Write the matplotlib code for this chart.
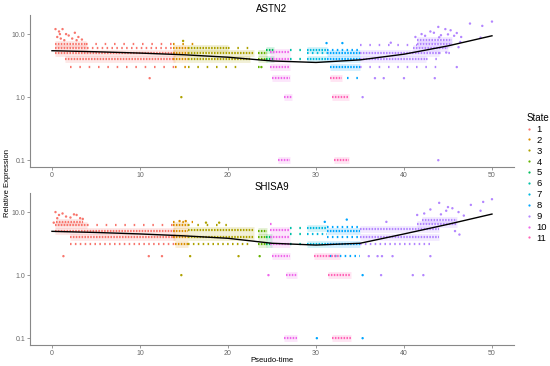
import numpy as np
import matplotlib
matplotlib.use('Agg')
import matplotlib.pyplot as plt
from matplotlib.lines import Line2D

plt.rcParams['font.family'] = ['Liberation Sans', 'DejaVu Sans']

# ggplot hue palette, 11 states
state_colors = ['#F8766D', '#DB8E00', '#AEA200', '#64B200', '#00BD5C', '#00C1A7',
                '#00BADE', '#00A6FF', '#B385FF', '#EF67EB', '#FF63B6']
state_labels = [str(i) for i in range(1, 12)]

# rows of cells: (state, t_start, t_end, expression, density)
# density: d = packed row, m = medium, s = scattered dots
astn2_rows = [
    (1, 0.3, 3.9, 7.0, 'd'), (1, 3.9, 14.0, 7.0, 's'),
    (1, 0.3, 4.0, 6.0, 'd'), (1, 4.0, 14.0, 6.0, 'm'),
    (1, 0.3, 14.0, 5.0, 'd'), (1, 1.5, 14.0, 4.0, 'd'), (1, 2.0, 14.0, 3.0, 's'),
    (2, 13.8, 16.5, 7.0, 's'), (2, 13.8, 15.5, 6.0, 'd'), (2, 13.8, 15.5, 5.0, 'd'),
    (2, 13.8, 15.5, 4.0, 'd'), (2, 14.0, 15.5, 3.0, 's'),
    (3, 15.5, 20.0, 6.0, 'd'), (3, 20.0, 22.5, 6.0, 's'), (3, 15.5, 23.0, 5.0, 'd'),
    (3, 15.5, 22.5, 4.0, 'd'), (3, 15.5, 21.5, 3.0, 's'),
    (4, 23.4, 24.4, 5.0, 'd'), (4, 23.4, 24.4, 4.0, 'd'), (4, 23.4, 24.4, 3.0, 's'),
    (5, 24.3, 25.2, 5.5, 'd'), (5, 24.3, 25.2, 4.0, 'd'),
    (10, 24.8, 27.0, 5.2, 'd'), (10, 24.8, 27.0, 4.0, 'd'), (10, 24.8, 27.0, 3.0, 'd'),
    (10, 25.0, 27.0, 2.0, 'd'), (10, 26.4, 27.3, 1.0, 'd'), (10, 25.7, 27.0, 0.1, 'd'),
    (6, 27.0, 29.0, 5.5, 's'), (6, 27.0, 29.0, 4.0, 's'),
    (7, 29.0, 31.2, 5.5, 'd'), (7, 29.0, 31.2, 5.0, 'm'), (7, 29.0, 31.2, 4.0, 'd'),
    (8, 31.2, 35.0, 5.5, 'm'), (8, 31.2, 35.0, 5.0, 'd'), (8, 31.2, 35.0, 4.0, 'd'),
    (8, 31.6, 35.0, 3.0, 'd'), (8, 33.5, 35.0, 2.0, 's'),
    (11, 31.6, 33.0, 2.0, 'd'), (11, 31.8, 33.7, 1.0, 'd'), (11, 32.0, 33.7, 0.1, 'd'),
    (9, 35.0, 41.5, 6.8, 's'), (9, 41.5, 45.5, 8.0, 'd'), (9, 41.5, 45.5, 7.0, 'd'),
    (9, 41.0, 45.0, 6.0, 'd'), (9, 35.0, 44.0, 5.0, 'd'), (9, 44.0, 46.0, 5.0, 's'),
    (9, 35.0, 42.5, 4.0, 'd'), (9, 42.5, 44.0, 4.0, 's'), (9, 35.0, 44.0, 3.0, 's'),
]
# single cells: (state, pseudotime, expression)
astn2_cells = [
    (1, 0.4, 12.0), (1, 0.8, 11.0), (1, 1.2, 12.0), (1, 1.6, 10.0), (1, 0.6, 9.0),
    (1, 1.0, 8.5), (1, 1.9, 9.5), (1, 2.3, 8.5), (1, 2.6, 10.5), (1, 3.0, 9.0),
    (1, 1.4, 8.0), (1, 2.8, 8.0), (1, 3.4, 8.2), (1, 0.9, 10.0), (1, 11.1, 2.0),
    (3, 14.7, 1.0), (3, 14.9, 7.8), (4, 23.8, 3.0), (8, 33.0, 7.2), (8, 31.2, 7.2),
    (9, 38.5, 7.3), (9, 36.7, 2.0), (9, 37.7, 2.0), (9, 40.0, 2.0), (9, 43.5, 2.0),
    (9, 35.3, 1.0), (9, 43.9, 0.1), (9, 46.0, 3.0), (9, 44.8, 5.1),
    (9, 43.9, 13.0), (9, 47.5, 14.7), (9, 48.9, 13.5), (9, 50.0, 15.8), (9, 43.0, 11.0),
    (9, 44.7, 12.0), (9, 45.3, 11.5), (9, 46.0, 10.4), (9, 42.4, 9.4), (9, 44.2, 9.6),
    (9, 45.0, 9.9), (9, 45.7, 9.4), (9, 42.0, 10.0), (9, 43.4, 10.5), (9, 46.5, 9.0),
    (9, 48.7, 8.8), (9, 41.3, 9.0), (9, 44.0, 8.9), (9, 46.4, 7.5), (9, 46.2, 6.2),
]

shisa9_rows = [
    (1, 0.5, 3.5, 7.0, 'd'), (1, 0.3, 4.0, 6.2, 'd'), (1, 4.0, 14.0, 6.2, 's'),
    (1, 0.3, 14.0, 5.0, 'd'), (1, 2.0, 14.0, 4.0, 'd'), (1, 2.0, 14.0, 3.1, 'm'),
    (2, 13.8, 16.0, 7.0, 's'), (2, 13.8, 15.5, 6.3, 'd'), (2, 13.8, 15.5, 5.0, 'd'),
    (2, 13.8, 15.5, 4.0, 'd'), (2, 14.0, 15.5, 3.1, 'd'),
    (3, 15.5, 20.5, 6.3, 's'), (3, 15.5, 23.0, 5.2, 'd'), (3, 15.5, 23.0, 4.0, 'd'),
    (3, 15.5, 22.5, 3.1, 'm'),
    (4, 23.4, 24.4, 5.0, 'd'), (4, 23.4, 24.4, 4.0, 'd'), (4, 23.4, 24.4, 3.1, 'd'),
    (5, 24.3, 25.0, 4.0, 'd'), (5, 24.3, 25.0, 3.1, 'd'),
    (10, 24.8, 25.4, 6.5, 's'), (10, 24.8, 27.0, 5.2, 'd'), (10, 24.8, 27.0, 4.0, 'd'),
    (10, 24.8, 27.0, 3.1, 'd'), (10, 25.0, 27.0, 2.0, 'd'), (10, 26.6, 27.8, 1.0, 'd'),
    (10, 26.4, 27.9, 0.1, 'd'),
    (6, 27.0, 29.0, 5.5, 's'), (6, 27.0, 29.0, 4.5, 's'), (6, 27.0, 29.0, 3.1, 's'),
    (7, 29.0, 31.2, 5.5, 'd'), (7, 29.0, 31.2, 4.5, 'm'), (7, 29.0, 31.2, 3.1, 'd'),
    (8, 31.2, 35.0, 5.8, 'm'), (8, 31.2, 35.0, 5.0, 'd'), (8, 31.2, 35.0, 4.0, 'm'),
    (8, 31.2, 35.0, 3.1, 'd'), (8, 31.6, 35.0, 2.0, 'm'),
    (11, 29.8, 32.7, 2.0, 'd'), (11, 31.4, 34.0, 1.0, 'd'), (11, 31.8, 34.0, 0.1, 'd'),
    (9, 42.0, 46.0, 7.5, 'd'), (9, 41.5, 46.0, 6.5, 'd'), (9, 35.0, 44.0, 5.4, 'd'),
    (9, 35.0, 44.0, 4.0, 'd'), (9, 35.0, 43.0, 3.1, 'm'),
]
shisa9_cells = [
    (1, 0.4, 10.0), (1, 0.8, 9.0), (1, 1.2, 9.5), (1, 1.6, 8.5), (1, 0.6, 8.0),
    (1, 2.1, 8.2), (1, 2.5, 9.2), (1, 2.8, 9.0), (1, 3.2, 8.0), (1, 3.5, 7.8),
    (1, 0.2, 6.8), (1, 1.3, 2.0), (1, 11.0, 2.0), (1, 12.5, 2.0),
    (2, 14.5, 7.2), (2, 15.2, 7.2), (3, 15.7, 2.0), (3, 21.2, 2.0), (3, 14.7, 1.0),
    (3, 17.5, 6.8), (3, 19.0, 6.8), (4, 23.6, 2.0), (10, 24.6, 1.0),
    (8, 30.1, 0.1), (8, 35.3, 0.1), (8, 35.3, 1.0), (8, 31.0, 7.0), (8, 33.5, 7.6),
    (9, 37.4, 1.0), (9, 41.0, 1.0), (9, 42.2, 1.0), (9, 36.0, 2.0), (9, 37.0, 2.0),
    (9, 37.5, 2.0), (9, 38.7, 2.0), (9, 43.0, 2.0), (9, 38.0, 7.0),
    (9, 44.0, 14.0), (9, 47.6, 13.0), (9, 49.0, 14.5), (9, 50.0, 16.0), (9, 43.0, 11.0),
    (9, 44.8, 10.5), (9, 45.5, 11.5), (9, 46.2, 10.0), (9, 42.3, 9.5), (9, 44.2, 9.2),
    (9, 45.0, 12.0), (9, 48.7, 10.5), (9, 41.5, 9.0), (9, 46.8, 8.8), (9, 45.8, 5.0),
    (9, 46.3, 4.4),
]

# fitted trend
trend_t = [0, 5, 10, 15, 20, 25, 30, 35, 40, 45, 50]
astn2_trend = [5.45, 5.25, 5.0, 4.7, 4.3, 3.75, 3.55, 3.9, 4.8, 6.5, 9.4]
shisa9_trend = [4.95, 4.75, 4.5, 4.2, 3.84, 3.2, 3.0, 3.2, 4.5, 6.4, 9.3]

dash = {'d': (0, (0.7, 0.6)), 'm': (0, (0.7, 1.5)), 's': (0, (0.7, 3.5))}

fig = plt.figure(figsize=(5.5, 3.66), dpi=100)
ax_top = fig.add_axes([0.0545, 0.5437, 0.88, 0.415])
ax_bot = fig.add_axes([0.0545, 0.0574, 0.88, 0.415])

panels = [(ax_top, 'ASTN2', astn2_rows, astn2_cells, astn2_trend),
          (ax_bot, 'SHISA9', shisa9_rows, shisa9_cells, shisa9_trend)]

for ax, gene, rows, cells, trend in panels:
    for st, t0, t1, lev, dens in rows:
        c = state_colors[st - 1]
        if dens == 'd':
            ax.plot([t0, t1], [lev, lev], color=c, lw=5, alpha=0.16,
                    solid_capstyle='butt', zorder=1)
        ax.plot([t0, t1], [lev, lev], color=c, lw=1.6, ls=dash[dens],
                dash_capstyle='butt', zorder=2)
    ax.scatter([p[1] for p in cells], [p[2] for p in cells],
               c=[state_colors[p[0] - 1] for p in cells], s=3, linewidths=0, zorder=3)
    ax.plot(trend_t, trend, color='black', lw=1.0, zorder=4)

    ax.set_yscale('log')
    ax.set_ylim(0.078, 20)
    ax.set_xlim(-2.5, 52.5)
    ax.set_yticks([0.1, 1.0, 10.0])
    ax.set_yticklabels(['0.1', '1.0', '10.0'])
    ax.minorticks_off()
    ax.set_xticks([0, 10, 20, 30, 40, 50])
    for s in ['top', 'right']:
        ax.spines[s].set_visible(False)
    for s in ['left', 'bottom']:
        ax.spines[s].set_color('#888888')
        ax.spines[s].set_linewidth(0.8)
    ax.tick_params(labelsize=5, colors='#888888', labelcolor='#666666',
                   length=2, width=0.6, pad=1.5)
    ax.set_title(gene, fontsize=7, pad=2)

ax_bot.set_xlabel('Pseudo-time', fontsize=5.5, labelpad=0)
fig.text(0.014, 0.5, 'Relative Expression', rotation=90, fontsize=5.5,
         ha='center', va='center')

handles = [Line2D([], [], ls='none', marker='o', markersize=1.6, markeredgewidth=0,
                  color=c) for c in state_colors]
fig.legend(handles, state_labels, title='State', loc='center left',
           bbox_to_anchor=(0.945, 0.514), frameon=False, fontsize=6.8,
           title_fontsize=7, labelspacing=0.2, handlelength=0.6,
           handletextpad=0.5, borderpad=0.2, alignment='left')

fig.savefig('out.png', dpi=100)
